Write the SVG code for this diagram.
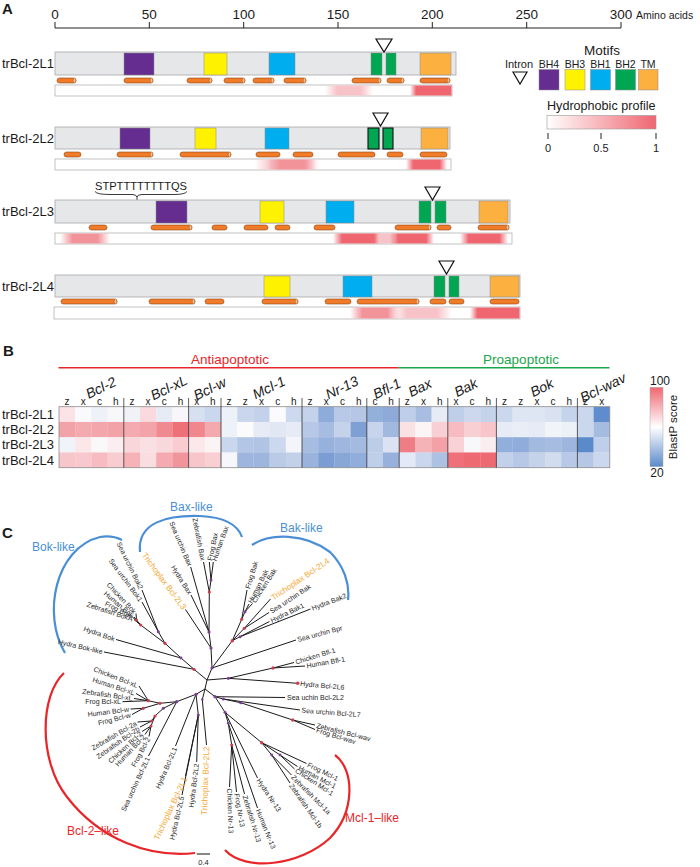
<svg xmlns="http://www.w3.org/2000/svg" width="700" height="867" viewBox="0 0 700 867">
<defs>
<style>
text{font-family:"Liberation Sans",Arial,sans-serif;fill:#1a1a1a}
.bar{fill:#e6e7e8;stroke:#a7a9ac;stroke-width:0.8}
.bh4{fill:#662d91;stroke:#8a8a8a;stroke-width:0.5}
.bh3{fill:#fff200;stroke:#8a8a8a;stroke-width:0.5}
.bh1{fill:#00aeef;stroke:#8a8a8a;stroke-width:0.5}
.bh2{fill:#00a651;stroke:#8a8a8a;stroke-width:0.5}
.bh2k{fill:#00a651;stroke:#111;stroke-width:1.1}
.tm{fill:#fbb040;stroke:#8a8a8a;stroke-width:0.5}
.hx{fill:#f07c2a;stroke:#8b4513;stroke-width:0.6}
.hxe{fill:#f9c08e;stroke:#8b4513;stroke-width:0.4}
.prof{fill:#fff;stroke:#b3b3b3;stroke-width:0.8}
.intron{fill:#fff;stroke:#111;stroke-width:1.2}
.lbl{font-size:13px}
.tick{font-size:13.5px}
.br{stroke:#1a1a1a;stroke-width:1;fill:none}
.lf{font-size:7px;fill:#262626;dominant-baseline:central}
.tri{font-size:8.3px;fill:#f7a833;dominant-baseline:central}
.dr{fill:#c9404e}
.dp{fill:#7b3f96}
.grp{font-size:14px;font-style:italic;text-anchor:middle}
.col{font-size:10px;text-anchor:middle}
.blue{fill:#4a8fd6;font-size:12px}
.red{fill:#e8262a;font-size:12px}
.arcb{fill:none;stroke:#4a8fd6;stroke-width:2.2}
.arcr{fill:none;stroke:#e8262a;stroke-width:2.2}
</style>
<linearGradient id="pS" x1="0" x2="1" y1="0" y2="0"><stop offset="0" stop-color="#ef6670" stop-opacity="0"/><stop offset="0.18" stop-color="#ef6670"/><stop offset="0.82" stop-color="#ef6670"/><stop offset="1" stop-color="#ef6670" stop-opacity="0"/></linearGradient>
<linearGradient id="pSr" x1="0" x2="1" y1="0" y2="0"><stop offset="0" stop-color="#ef6670" stop-opacity="0"/><stop offset="0.15" stop-color="#ef6670"/><stop offset="1" stop-color="#ef6670"/></linearGradient>
<linearGradient id="pM" x1="0" x2="1" y1="0" y2="0"><stop offset="0" stop-color="#f2939a" stop-opacity="0"/><stop offset="0.25" stop-color="#f2939a"/><stop offset="0.75" stop-color="#f2939a"/><stop offset="1" stop-color="#f2939a" stop-opacity="0"/></linearGradient>
<linearGradient id="pL" x1="0" x2="1" y1="0" y2="0"><stop offset="0" stop-color="#f7c3c8" stop-opacity="0"/><stop offset="0.25" stop-color="#f7c3c8"/><stop offset="0.75" stop-color="#f7c3c8"/><stop offset="1" stop-color="#f7c3c8" stop-opacity="0"/></linearGradient>
<linearGradient id="hyd" x1="0" x2="1" y1="0" y2="0"><stop offset="0" stop-color="#ffffff"/><stop offset="1" stop-color="#ef6670"/></linearGradient>
<linearGradient id="blast" x1="0" x2="0" y1="0" y2="1"><stop offset="0" stop-color="#ef6670"/><stop offset="0.5" stop-color="#ffffff"/><stop offset="1" stop-color="#5a8acb"/></linearGradient>
</defs>
<rect width="700" height="867" fill="#fff"/>

<!-- Panel A -->
<g id="panelA-axis">
<text x="2" y="14" style="font-size:15px;font-weight:bold">A</text>
<line x1="55" y1="28" x2="621" y2="28" stroke="#222" stroke-width="1"/>
<path d="M55,22V28M149.3,22V28M243.7,22V28M338,22V28M432.3,22V28M526.7,22V28M621,22V28" stroke="#222" stroke-width="1"/>
<g class="tick" text-anchor="middle">
<text x="55" y="19" class="tick">0</text><text x="149.3" y="19" class="tick">50</text><text x="243.7" y="19" class="tick">100</text><text x="338" y="19" class="tick">150</text><text x="432.3" y="19" class="tick">200</text><text x="526.7" y="19" class="tick">250</text><text x="621" y="19" class="tick">300</text>
</g>
<text x="636" y="19" style="font-size:10.5px">Amino acids</text>
</g>

<g id="row-L1">
<text x="2" y="68" class="lbl">trBcl-2L1</text>
<rect class="bar" x="55" y="52" width="401" height="23"/>
<rect class="bh4" x="124" y="53" width="30" height="22"/>
<rect class="bh3" x="204" y="53" width="23" height="22"/>
<rect class="bh1" x="269" y="53" width="26" height="22"/>
<rect class="bh2" x="371" y="53" width="11" height="22"/>
<rect class="bh2" x="386" y="53" width="10" height="22"/>
<rect class="tm" x="420" y="53" width="31" height="22"/>
<path class="intron" d="M376,39H392L384,52Z"/>
<g>
<rect class="hx" x="57" y="78" width="19" height="5" rx="2.5"/><rect class="hx" x="124" y="78" width="29" height="5" rx="2.5"/><rect class="hx" x="187" y="78" width="25" height="5" rx="2.5"/><rect class="hx" x="224" y="78" width="21" height="5" rx="2.5"/><rect class="hx" x="253" y="78" width="21" height="5" rx="2.5"/><rect class="hx" x="284" y="78" width="22" height="5" rx="2.5"/><rect class="hx" x="352" y="78" width="29" height="5" rx="2.5"/><rect class="hx" x="387" y="78" width="17" height="5" rx="2.5"/><rect class="hx" x="420" y="78" width="30" height="5" rx="2.5"/>
<ellipse class="hxe" cx="74.5" cy="80.5" rx="1.3" ry="2.4"/><ellipse class="hxe" cx="151.5" cy="80.5" rx="1.3" ry="2.4"/><ellipse class="hxe" cx="210.5" cy="80.5" rx="1.3" ry="2.4"/><ellipse class="hxe" cx="243.5" cy="80.5" rx="1.3" ry="2.4"/><ellipse class="hxe" cx="272.5" cy="80.5" rx="1.3" ry="2.4"/><ellipse class="hxe" cx="304.5" cy="80.5" rx="1.3" ry="2.4"/><ellipse class="hxe" cx="379.5" cy="80.5" rx="1.3" ry="2.4"/><ellipse class="hxe" cx="402.5" cy="80.5" rx="1.3" ry="2.4"/><ellipse class="hxe" cx="448.5" cy="80.5" rx="1.3" ry="2.4"/>
</g>
<rect class="prof" x="55" y="85" width="397" height="11"/>
<rect x="325" y="85.5" width="48" height="10" fill="url(#pL)"/>
<rect x="410" y="85.5" width="41.5" height="10" fill="url(#pSr)"/>
</g>

<g id="row-L2">
<text x="2" y="142.5" class="lbl">trBcl-2L2</text>
<rect class="bar" x="55" y="127" width="395" height="22"/>
<rect class="bh4" x="120" y="128" width="30" height="21"/>
<rect class="bh3" x="195" y="128" width="21" height="21"/>
<rect class="bh1" x="265" y="128" width="24" height="21"/>
<rect class="bh2k" x="368" y="128" width="11" height="21"/>
<rect class="bh2k" x="383" y="128" width="10" height="21"/>
<rect class="tm" x="421" y="128" width="27" height="21"/>
<path class="intron" d="M373,113H388L380.5,126Z"/>
<g>
<rect class="hx" x="64" y="152" width="17" height="5" rx="2.5"/><rect class="hx" x="117" y="152" width="36" height="5" rx="2.5"/><rect class="hx" x="180" y="152" width="51" height="5" rx="2.5"/><rect class="hx" x="256" y="152" width="24" height="5" rx="2.5"/><rect class="hx" x="293" y="152" width="20" height="5" rx="2.5"/><rect class="hx" x="338" y="152" width="37" height="5" rx="2.5"/><rect class="hx" x="387" y="152" width="16" height="5" rx="2.5"/><rect class="hx" x="420" y="152" width="27" height="5" rx="2.5"/>
<ellipse class="hxe" cx="151.5" cy="154.5" rx="1.3" ry="2.4"/><ellipse class="hxe" cx="229.5" cy="154.5" rx="1.3" ry="2.4"/>
</g>
<rect class="prof" x="55" y="159" width="396" height="11"/>
<rect x="255" y="159.5" width="65" height="10" fill="url(#pL)"/>
<rect x="268" y="159.5" width="48" height="10" fill="url(#pM)"/>
<rect x="406" y="159.5" width="41" height="10" fill="url(#pS)"/>
</g>

<g id="row-L3">
<text x="95" y="190" style="font-size:11px" textLength="92" lengthAdjust="spacingAndGlyphs">STPTTTTTTTTQS</text>
<path d="M95,191.5Q97,194.5 110,194.5L132,194.5Q136.5,194.5 137,197Q137.5,194.5 142,194.5L174,194.5Q185,194.5 187,191.5M137,197V200" fill="none" stroke="#222" stroke-width="0.9"/>
<text x="2" y="216" class="lbl">trBcl-2L3</text>
<rect class="bar" x="55" y="200" width="455" height="23"/>
<rect class="bh4" x="156" y="201" width="31" height="22"/>
<rect class="bh3" x="260" y="201" width="24" height="22"/>
<rect class="bh1" x="326" y="201" width="28" height="22"/>
<rect class="bh2" x="419" y="201" width="12" height="22"/>
<rect class="bh2" x="435" y="201" width="11" height="22"/>
<rect class="tm" x="479" y="201" width="29" height="22"/>
<path class="intron" d="M425,187H440L432.5,200Z"/>
<g>
<rect class="hx" x="89" y="225" width="18" height="5" rx="2.5"/><rect class="hx" x="151" y="225" width="41" height="5" rx="2.5"/><rect class="hx" x="212" y="225" width="15" height="5" rx="2.5"/><rect class="hx" x="244" y="225" width="24" height="5" rx="2.5"/><rect class="hx" x="275" y="225" width="15" height="5" rx="2.5"/><rect class="hx" x="314" y="225" width="21" height="5" rx="2.5"/><rect class="hx" x="395" y="225" width="36" height="5" rx="2.5"/><rect class="hx" x="437" y="225" width="14" height="5" rx="2.5"/><rect class="hx" x="478" y="225" width="31" height="5" rx="2.5"/>
<ellipse class="hxe" cx="190.5" cy="227.5" rx="1.3" ry="2.4"/><ellipse class="hxe" cx="429.5" cy="227.5" rx="1.3" ry="2.4"/><ellipse class="hxe" cx="507.5" cy="227.5" rx="1.3" ry="2.4"/>
</g>
<rect class="prof" x="55" y="233" width="457" height="11"/>
<rect x="60" y="233.5" width="50" height="10" fill="url(#pM)"/>
<rect x="333" y="233.5" width="50" height="10" fill="url(#pS)"/>
<rect x="376" y="233.5" width="22" height="10" fill="url(#pL)"/>
<rect x="390" y="233.5" width="44" height="10" fill="url(#pS)"/>
<rect x="460" y="233.5" width="48" height="10" fill="url(#pS)"/>
</g>

<g id="row-L4">
<text x="2" y="290.5" class="lbl">trBcl-2L4</text>
<rect class="bar" x="55" y="275" width="465" height="22"/>
<rect class="bh3" x="264" y="276" width="26" height="21"/>
<rect class="bh1" x="343" y="276" width="29" height="21"/>
<rect class="bh2" x="434" y="276" width="11" height="21"/>
<rect class="bh2" x="449" y="276" width="10" height="21"/>
<rect class="tm" x="490" y="276" width="29" height="21"/>
<path class="intron" d="M439,261H454L446.5,274Z"/>
<g>
<rect class="hx" x="61" y="299" width="56" height="5" rx="2.5"/><rect class="hx" x="149" y="299" width="46" height="5" rx="2.5"/><rect class="hx" x="205" y="299" width="19" height="5" rx="2.5"/><rect class="hx" x="262" y="299" width="36" height="5" rx="2.5"/><rect class="hx" x="325" y="299" width="26" height="5" rx="2.5"/><rect class="hx" x="357" y="299" width="62" height="5" rx="2.5"/><rect class="hx" x="430" y="299" width="16" height="5" rx="2.5"/><rect class="hx" x="449" y="299" width="15" height="5" rx="2.5"/><rect class="hx" x="490" y="299" width="29" height="5" rx="2.5"/>
<ellipse class="hxe" cx="115.5" cy="301.5" rx="1.3" ry="2.4"/><ellipse class="hxe" cx="193.5" cy="301.5" rx="1.3" ry="2.4"/><ellipse class="hxe" cx="296.5" cy="301.5" rx="1.3" ry="2.4"/><ellipse class="hxe" cx="417.5" cy="301.5" rx="1.3" ry="2.4"/>
</g>
<rect class="prof" x="54" y="307" width="466" height="12"/>
<rect x="350" y="307.5" width="50" height="11" fill="url(#pM)"/>
<rect x="392" y="307.5" width="60" height="11" fill="url(#pL)"/>
<rect x="470" y="307.5" width="49.5" height="11" fill="url(#pSr)"/>
</g>

<g id="legendA">
<text x="602" y="55" text-anchor="middle" style="font-size:13.5px">Motifs</text>
<text x="519" y="68" text-anchor="middle" style="font-size:11px">Intron</text>
<g text-anchor="middle" style="font-size:10.5px">
<text x="549" y="68">BH4</text><text x="575" y="68">BH3</text><text x="600.5" y="68">BH1</text><text x="625.5" y="68">BH2</text><text x="648" y="68">TM</text>
</g>
<path class="intron" d="M513,72H527L520,84Z"/>
<rect class="bh4" x="539" y="69.5" width="20" height="20.5"/>
<rect class="bh3" x="565" y="69.5" width="20" height="20.5"/>
<rect class="bh1" x="590.5" y="69.5" width="20" height="20.5"/>
<rect class="bh2" x="615.5" y="69.5" width="20" height="20.5"/>
<rect class="tm" x="638.5" y="69.5" width="19.5" height="20.5"/>
<text x="547" y="110" style="font-size:12.6px">Hydrophobic profile</text>
<rect x="547" y="115.5" width="109" height="13.5" fill="url(#hyd)" stroke="#999" stroke-width="0.6"/>
<path d="M548,133V139M601,133V139M656,133V139" stroke="#222" stroke-width="1"/>
<g text-anchor="middle" style="font-size:11px"><text x="548" y="152">0</text><text x="601" y="152">0.5</text><text x="656" y="152">1</text></g>
</g>

<!-- Panel B -->
<g id="panelB-header">
<text x="3" y="356" style="font-size:15px;font-weight:bold">B</text>
<line x1="58.5" y1="367.7" x2="398.6" y2="367.7" stroke="#e8262a" stroke-width="1.5"/>
<line x1="398.6" y1="367.7" x2="609.5" y2="367.7" stroke="#1aa54b" stroke-width="1.5"/>
<text x="230" y="364" text-anchor="middle" style="font-size:13.5px;fill:#e8262a">Antiapoptotic</text>
<text x="521" y="364" text-anchor="middle" style="font-size:13.5px;fill:#1aa54b">Proapoptotic</text>
<text class="grp" transform="translate(103 392) rotate(-26)">Bcl-2</text>
<text class="grp" transform="translate(171 392) rotate(-26)">Bcl-xL</text>
<text class="grp" transform="translate(212 393) rotate(-26)">Bcl-w</text>
<text class="grp" transform="translate(271 392) rotate(-26)">Mcl-1</text>
<text class="grp" transform="translate(344 392) rotate(-26)">Nr-13</text>
<text class="grp" transform="translate(389 393) rotate(-26)">Bfl-1</text>
<text class="grp" transform="translate(422 392) rotate(-26)">Bax</text>
<text class="grp" transform="translate(468 392) rotate(-26)">Bak</text>
<text class="grp" transform="translate(544 392) rotate(-26)">Bok</text>
<text class="grp" transform="translate(605 392) rotate(-26)">Bcl-wav</text>
<g class="col">
<text x="67.1" y="404.5" class="col">z</text><text x="83.3" y="404.5" class="col">x</text><text x="99.5" y="404.5" class="col">c</text><text x="115.7" y="404.5" class="col">h</text>
<text x="131.9" y="404.5" class="col">z</text><text x="148.1" y="404.5" class="col">x</text><text x="164.3" y="404.5" class="col">c</text><text x="180.5" y="404.5" class="col">h</text>
<text x="196.7" y="404.5" class="col">x</text><text x="212.9" y="404.5" class="col">h</text>
<text x="229.1" y="404.5" class="col">z</text><text x="245.3" y="404.5" class="col">z</text><text x="261.5" y="404.5" class="col">x</text><text x="277.7" y="404.5" class="col">c</text><text x="293.9" y="404.5" class="col">h</text>
<text x="310.1" y="404.5" class="col">z</text><text x="326.3" y="404.5" class="col">x</text><text x="342.5" y="404.5" class="col">c</text><text x="358.7" y="404.5" class="col">h</text>
<text x="374.9" y="404.5" class="col">c</text><text x="391.1" y="404.5" class="col">h</text>
<text x="407.3" y="404.5" class="col">z</text><text x="423.5" y="404.5" class="col">x</text><text x="439.7" y="404.5" class="col">h</text>
<text x="455.9" y="404.5" class="col">x</text><text x="472.1" y="404.5" class="col">c</text><text x="488.3" y="404.5" class="col">h</text>
<text x="504.5" y="404.5" class="col">z</text><text x="520.7" y="404.5" class="col">z</text><text x="536.9" y="404.5" class="col">x</text><text x="553.1" y="404.5" class="col">c</text><text x="569.3" y="404.5" class="col">h</text>
<text x="585.5" y="404.5" class="col">z</text><text x="601.7" y="404.5" class="col">x</text>
</g>
<g class="lbl"><text x="2" y="418.8" class="lbl">trBcl-2L1</text><text x="2" y="434.1" class="lbl">trBcl-2L2</text><text x="2" y="449.3" class="lbl">trBcl-2L3</text><text x="2" y="464.6" class="lbl">trBcl-2L4</text></g>
</g>

<g id="heatmap">
<g id="hm-r1">
<rect x="59.0" y="406.7" width="16.4" height="15.5" fill="#fbe3e6"/><rect x="75.2" y="406.7" width="16.4" height="15.5" fill="#fafafc"/><rect x="91.4" y="406.7" width="16.4" height="15.5" fill="#eef1f8"/><rect x="107.6" y="406.7" width="16.4" height="15.5" fill="#f8f8fb"/><rect x="123.8" y="406.7" width="16.4" height="15.5" fill="#f0f2f8"/><rect x="140.0" y="406.7" width="16.4" height="15.5" fill="#fadadf"/><rect x="156.2" y="406.7" width="16.4" height="15.5" fill="#e6ebf5"/><rect x="172.4" y="406.7" width="16.4" height="15.5" fill="#f8f6f9"/><rect x="188.6" y="406.7" width="16.4" height="15.5" fill="#d7e0f0"/><rect x="204.8" y="406.7" width="16.4" height="15.5" fill="#cbd7ed"/><rect x="221.0" y="406.7" width="16.4" height="15.5" fill="#edf1f8"/><rect x="237.2" y="406.7" width="16.4" height="15.5" fill="#c9d6ec"/><rect x="253.4" y="406.7" width="16.4" height="15.5" fill="#c3d1ea"/><rect x="269.6" y="406.7" width="16.4" height="15.5" fill="#fbfbfd"/><rect x="285.8" y="406.7" width="16.4" height="15.5" fill="#cdd9ee"/><rect x="302.0" y="406.7" width="16.4" height="15.5" fill="#c4d2ea"/><rect x="318.2" y="406.7" width="16.4" height="15.5" fill="#8eacd9"/><rect x="334.4" y="406.7" width="16.4" height="15.5" fill="#b7c9e6"/><rect x="350.6" y="406.7" width="16.4" height="15.5" fill="#b5c7e5"/><rect x="366.8" y="406.7" width="16.4" height="15.5" fill="#93b0db"/><rect x="383.0" y="406.7" width="16.4" height="15.5" fill="#8eaad8"/><rect x="399.2" y="406.7" width="16.4" height="15.5" fill="#c0cfe9"/><rect x="415.4" y="406.7" width="16.4" height="15.5" fill="#a8bde1"/><rect x="431.6" y="406.7" width="16.4" height="15.5" fill="#e6ebf5"/><rect x="447.8" y="406.7" width="16.4" height="15.5" fill="#bfcfe9"/><rect x="464.0" y="406.7" width="16.4" height="15.5" fill="#cdd8ee"/><rect x="480.2" y="406.7" width="16.4" height="15.5" fill="#c5d3ea"/><rect x="496.4" y="406.7" width="16.4" height="15.5" fill="#cbd7ed"/><rect x="512.6" y="406.7" width="16.4" height="15.5" fill="#dfe6f3"/><rect x="528.8" y="406.7" width="16.4" height="15.5" fill="#dfe6f3"/><rect x="545.0" y="406.7" width="16.4" height="15.5" fill="#dae2f1"/><rect x="561.2" y="406.7" width="16.4" height="15.5" fill="#c6d4eb"/><rect x="577.4" y="406.7" width="16.4" height="15.5" fill="#cbd7ec"/><rect x="593.6" y="406.7" width="16.2" height="15.5" fill="#5f8ccc"/>
</g>
<g id="hm-r2">
<rect x="59.0" y="421.95" width="16.4" height="15.5" fill="#f2a3a8"/><rect x="75.2" y="421.95" width="16.4" height="15.5" fill="#f4abb0"/><rect x="91.4" y="421.95" width="16.4" height="15.5" fill="#f3a7ad"/><rect x="107.6" y="421.95" width="16.4" height="15.5" fill="#f2a3a8"/><rect x="123.8" y="421.95" width="16.4" height="15.5" fill="#f4aab0"/><rect x="140.0" y="421.95" width="16.4" height="15.5" fill="#f3a4aa"/><rect x="156.2" y="421.95" width="16.4" height="15.5" fill="#f08a91"/><rect x="172.4" y="421.95" width="16.4" height="15.5" fill="#ee7079"/><rect x="188.6" y="421.95" width="16.4" height="15.5" fill="#f0868e"/><rect x="204.8" y="421.95" width="16.4" height="15.5" fill="#f4a9af"/><rect x="221.0" y="421.95" width="16.4" height="15.5" fill="#edf1f8"/><rect x="237.2" y="421.95" width="16.4" height="15.5" fill="#fbfbfd"/><rect x="253.4" y="421.95" width="16.4" height="15.5" fill="#e6ebf5"/><rect x="269.6" y="421.95" width="16.4" height="15.5" fill="#e1e7f3"/><rect x="285.8" y="421.95" width="16.4" height="15.5" fill="#e6ebf5"/><rect x="302.0" y="421.95" width="16.4" height="15.5" fill="#b6c8e5"/><rect x="318.2" y="421.95" width="16.4" height="15.5" fill="#a6bce0"/><rect x="334.4" y="421.95" width="16.4" height="15.5" fill="#c5d3ea"/><rect x="350.6" y="421.95" width="16.4" height="15.5" fill="#7fa0d4"/><rect x="366.8" y="421.95" width="16.4" height="15.5" fill="#c7d4eb"/><rect x="383.0" y="421.95" width="16.4" height="15.5" fill="#a2b9df"/><rect x="399.2" y="421.95" width="16.4" height="15.5" fill="#fae1e4"/><rect x="415.4" y="421.95" width="16.4" height="15.5" fill="#fbf5f6"/><rect x="431.6" y="421.95" width="16.4" height="15.5" fill="#f8d0d4"/><rect x="447.8" y="421.95" width="16.4" height="15.5" fill="#f6bcc1"/><rect x="464.0" y="421.95" width="16.4" height="15.5" fill="#f8d0d4"/><rect x="480.2" y="421.95" width="16.4" height="15.5" fill="#f7c5ca"/><rect x="496.4" y="421.95" width="16.4" height="15.5" fill="#e6ebf5"/><rect x="512.6" y="421.95" width="16.4" height="15.5" fill="#e9eef6"/><rect x="528.8" y="421.95" width="16.4" height="15.5" fill="#e6ebf5"/><rect x="545.0" y="421.95" width="16.4" height="15.5" fill="#f1f4f9"/><rect x="561.2" y="421.95" width="16.4" height="15.5" fill="#ecf0f7"/><rect x="577.4" y="421.95" width="16.4" height="15.5" fill="#cbd7ec"/><rect x="593.6" y="421.95" width="16.2" height="15.5" fill="#a5bbdf"/>
</g>
<g id="hm-r3">
<rect x="59.0" y="437.2" width="16.4" height="15.5" fill="#f0f3f9"/><rect x="75.2" y="437.2" width="16.4" height="15.5" fill="#fbe6e8"/><rect x="91.4" y="437.2" width="16.4" height="15.5" fill="#fbf8f9"/><rect x="107.6" y="437.2" width="16.4" height="15.5" fill="#faeef0"/><rect x="123.8" y="437.2" width="16.4" height="15.5" fill="#f9d6da"/><rect x="140.0" y="437.2" width="16.4" height="15.5" fill="#fae0e3"/><rect x="156.2" y="437.2" width="16.4" height="15.5" fill="#f9d8dc"/><rect x="172.4" y="437.2" width="16.4" height="15.5" fill="#f8ccd1"/><rect x="188.6" y="437.2" width="16.4" height="15.5" fill="#fbe8ea"/><rect x="204.8" y="437.2" width="16.4" height="15.5" fill="#fbf3f4"/><rect x="221.0" y="437.2" width="16.4" height="15.5" fill="#c9d6ec"/><rect x="237.2" y="437.2" width="16.4" height="15.5" fill="#b3c6e5"/><rect x="253.4" y="437.2" width="16.4" height="15.5" fill="#b1c4e4"/><rect x="269.6" y="437.2" width="16.4" height="15.5" fill="#ccd8ed"/><rect x="285.8" y="437.2" width="16.4" height="15.5" fill="#f3f5fa"/><rect x="302.0" y="437.2" width="16.4" height="15.5" fill="#a6bce0"/><rect x="318.2" y="437.2" width="16.4" height="15.5" fill="#96b1dc"/><rect x="334.4" y="437.2" width="16.4" height="15.5" fill="#9fb7de"/><rect x="350.6" y="437.2" width="16.4" height="15.5" fill="#a4bbdf"/><rect x="366.8" y="437.2" width="16.4" height="15.5" fill="#bccde8"/><rect x="383.0" y="437.2" width="16.4" height="15.5" fill="#dbe3f2"/><rect x="399.2" y="437.2" width="16.4" height="15.5" fill="#ef7d85"/><rect x="415.4" y="437.2" width="16.4" height="15.5" fill="#f5b3b8"/><rect x="431.6" y="437.2" width="16.4" height="15.5" fill="#f3a0a6"/><rect x="447.8" y="437.2" width="16.4" height="15.5" fill="#f8d2d6"/><rect x="464.0" y="437.2" width="16.4" height="15.5" fill="#f8f8fb"/><rect x="480.2" y="437.2" width="16.4" height="15.5" fill="#fbeef0"/><rect x="496.4" y="437.2" width="16.4" height="15.5" fill="#92afdb"/><rect x="512.6" y="437.2" width="16.4" height="15.5" fill="#8facda"/><rect x="528.8" y="437.2" width="16.4" height="15.5" fill="#a3badf"/><rect x="545.0" y="437.2" width="16.4" height="15.5" fill="#a6bce0"/><rect x="561.2" y="437.2" width="16.4" height="15.5" fill="#9eb6de"/><rect x="577.4" y="437.2" width="16.4" height="15.5" fill="#5b8acb"/><rect x="593.6" y="437.2" width="16.2" height="15.5" fill="#c0cfe9"/>
</g>
<g id="hm-r4">
<rect x="59.0" y="452.45" width="16.4" height="15.25" fill="#f7c6cb"/><rect x="75.2" y="452.45" width="16.4" height="15.25" fill="#f7c8cd"/><rect x="91.4" y="452.45" width="16.4" height="15.25" fill="#f6bcc1"/><rect x="107.6" y="452.45" width="16.4" height="15.25" fill="#f8cdd1"/><rect x="123.8" y="452.45" width="16.4" height="15.25" fill="#f5b3b8"/><rect x="140.0" y="452.45" width="16.4" height="15.25" fill="#fadde0"/><rect x="156.2" y="452.45" width="16.4" height="15.25" fill="#f4aab0"/><rect x="172.4" y="452.45" width="16.4" height="15.25" fill="#f1959c"/><rect x="188.6" y="452.45" width="16.4" height="15.25" fill="#f7c6cb"/><rect x="204.8" y="452.45" width="16.4" height="15.25" fill="#f8cfd3"/><rect x="221.0" y="452.45" width="16.4" height="15.25" fill="#f5f7fb"/><rect x="237.2" y="452.45" width="16.4" height="15.25" fill="#9eb6de"/><rect x="253.4" y="452.45" width="16.4" height="15.25" fill="#9eb6de"/><rect x="269.6" y="452.45" width="16.4" height="15.25" fill="#b9cbe7"/><rect x="285.8" y="452.45" width="16.4" height="15.25" fill="#c2d0ea"/><rect x="302.0" y="452.45" width="16.4" height="15.25" fill="#9ab3dc"/><rect x="318.2" y="452.45" width="16.4" height="15.25" fill="#7b9dd3"/><rect x="334.4" y="452.45" width="16.4" height="15.25" fill="#88a7d7"/><rect x="350.6" y="452.45" width="16.4" height="15.25" fill="#91addb"/><rect x="366.8" y="452.45" width="16.4" height="15.25" fill="#bfcfe9"/><rect x="383.0" y="452.45" width="16.4" height="15.25" fill="#97b1dc"/><rect x="399.2" y="452.45" width="16.4" height="15.25" fill="#e4eaf5"/><rect x="415.4" y="452.45" width="16.4" height="15.25" fill="#c9d6ec"/><rect x="431.6" y="452.45" width="16.4" height="15.25" fill="#adc1e3"/><rect x="447.8" y="452.45" width="16.4" height="15.25" fill="#ef7079"/><rect x="464.0" y="452.45" width="16.4" height="15.25" fill="#ee6a73"/><rect x="480.2" y="452.45" width="16.4" height="15.25" fill="#ee6a73"/><rect x="496.4" y="452.45" width="16.4" height="15.25" fill="#c2d0ea"/><rect x="512.6" y="452.45" width="16.4" height="15.25" fill="#b6c8e5"/><rect x="528.8" y="452.45" width="16.4" height="15.25" fill="#c5d3ea"/><rect x="545.0" y="452.45" width="16.4" height="15.25" fill="#d1dcef"/><rect x="561.2" y="452.45" width="16.4" height="15.25" fill="#b7c9e6"/><rect x="577.4" y="452.45" width="16.4" height="15.25" fill="#b5c7e5"/><rect x="593.6" y="452.45" width="16.2" height="15.25" fill="#cbd7ec"/>
</g>
<rect x="59" y="406.7" width="550.8" height="61" fill="none" stroke="#8c8c8c" stroke-width="0.8"/>
<path d="M123.8,398V467.7M188.6,398V467.7M221,398V467.7M302,398V467.7M366.8,398V467.7M399.2,398V467.7M447.8,398V467.7M496.4,398V467.7M577.4,398V467.7" stroke="#333" stroke-width="0.8"/>
</g>

<g id="colorbar">
<rect x="650" y="387.3" width="13" height="79.4" fill="url(#blast)" stroke="#aaa" stroke-width="0.5"/>
<text x="660" y="385" text-anchor="middle" style="font-size:12px">100</text>
<text x="657" y="477" text-anchor="middle" style="font-size:12px">20</text>
<text transform="translate(673 427) rotate(-90)" text-anchor="middle" style="font-size:11.5px;dominant-baseline:central">BlastP score</text>
</g>

<!-- Panel C -->
<text x="2" y="538" style="font-size:15px;font-weight:bold">C</text>

<g id="clade-arcs">
<path class="arcb" d="M65,653C42,615 55,548 100,537Q112,535 122,540"/>
<path class="arcb" d="M140,552C137,522 168,515 200,516C222,517 237,523 242,537"/>
<path class="arcb" d="M252,545C270,533 305,533 330,552C344,566 350,584 348,600"/>
<path class="arcr" d="M64,673C40,695 38,760 67,797C100,840 150,858 195,853"/>
<path class="arcr" d="M225,850C245,872 300,866 330,838C355,812 355,770 335,755"/>
<text x="32" y="551" class="blue">Bok-like</text>
<text x="170" y="510.5" class="blue">Bax-like</text>
<text x="280" y="532" class="blue">Bak-like</text>
<text x="67" y="835" class="red">Bcl-2–like</text>
<text x="345" y="822" class="red">Mcl-1–like</text>
</g>

<g id="connectors">
<path class="br" d="M207,680L205,689M207,680L212,668
M212,668L211,648L209,632L209.3,592L211,580M209.3,592L203.5,562M211,580L209.3,562M211,580L213.3,562
M209,632L190.7,567M209,632L191,595M211,648L185.5,609.5
M212,668L296,640M212,668L232.3,640.7L241.7,619.3L245,611.7M241.7,619.3L247,590M245,611.7L249,604M245,611.7L252.5,603.5
M232.3,640.7L244.3,628.3L269,612.5M244.3,628.3L270.5,599M232.3,640.7L240,636.7L269.5,621.5M240,636.7L310.5,609
M207,680L194,669.3L181,658L165,643.3L158.3,631.7L142,590M158.3,631.7L142,602M194,669.3L104,652M181,658L116,639.5
M165,643.3L140.7,625L136.5,620L136,613.5M136.5,620L134,617M140.7,625L132,616.5M140.7,625L134,619.5
M207,680L228.3,678.3L297.7,683.3M228.3,678.3L273,668L294,662.5M273,668L305,666
M205,689L215,696.7L285,697.5M215,696.7L223.3,699L300,710M223.3,699L240.7,702.7L292.7,720L315,725M292.7,720L315,729.5
M215,696.7L225,712.3L261.7,742.7L306.5,763.5M261.7,742.7L280,755L297.5,766.5M280,755L294.5,769M261.7,742.7L271.7,755L291.5,775M271.7,755L290,783
M225,712.3L228.3,723.3L231.7,745L229.5,787M231.7,745L236.5,792M231.7,745L244.5,794M228.3,723.3L257.5,808M225,712.3L257.5,778
M205,689L196,694.3L176.7,701.7L160,703.3L148.3,700.7L139,686M148.3,700.7L136,693.5M148.3,700.7L134,698.5M148.3,700.7L122.5,701.7
M160,703.3L143.3,708.3L130.5,709M143.3,708.3L132,714.5
M176.7,701.7L163.3,708.3L155,716L151.7,721L137.5,722M151.7,721L140,727M155,716L151,726L142,731.5M151,726L145,734.5M151,726L149,736.5
M176.7,701.7L148.5,756M196,694.3L175.5,746M196,694.3L198.3,715L196.7,762M198.3,715L182,795M198.3,715L185.5,776
M205,689L202.3,699.5L206.5,745"/>
<path d="M196.7,854H210" stroke="#111" stroke-width="1"/>
<text x="203.5" y="865" text-anchor="middle" style="font-size:7.5px">0.4</text>
</g>

<g id="tree-dots">
<circle class="dp" cx="212" cy="668" r="1.6"/><circle class="dp" cx="211" cy="648" r="1.6"/><circle class="dp" cx="209" cy="632" r="1.6"/><circle class="dr" cx="209.3" cy="592" r="1.6"/><circle class="dp" cx="211" cy="580" r="1.5"/>
<circle class="dr" cx="232.3" cy="640.7" r="1.7"/><circle class="dr" cx="241.7" cy="619.3" r="1.6"/><circle class="dp" cx="245" cy="611.7" r="1.5"/><circle class="dr" cx="244.3" cy="628.3" r="1.6"/><circle class="dp" cx="240" cy="636.7" r="1.5"/>
<circle class="dr" cx="194" cy="669.3" r="1.6"/><circle class="dp" cx="181" cy="658" r="1.4"/><circle class="dr" cx="165" cy="643.3" r="1.6"/><circle class="dp" cx="158.3" cy="631.7" r="1.5"/><circle class="dr" cx="140.7" cy="625" r="1.6"/><circle class="dr" cx="136.5" cy="620" r="1.6"/>
<circle class="dp" cx="228.3" cy="678.3" r="1.6"/><circle class="dr" cx="273" cy="668" r="1.7"/><circle class="dr" cx="297.7" cy="683.3" r="1.8"/>
<circle class="dp" cx="215" cy="696.7" r="1.6"/><circle class="dp" cx="223.3" cy="699" r="1.5"/><circle class="dp" cx="240.7" cy="702.7" r="1.5"/><circle class="dr" cx="292.7" cy="720" r="1.7"/>
<circle class="dp" cx="225" cy="712.3" r="1.5"/><circle class="dr" cx="261.7" cy="742.7" r="1.7"/><circle class="dp" cx="280" cy="755" r="1.4"/><circle class="dp" cx="271.7" cy="755" r="1.4"/><circle class="dp" cx="228.3" cy="723.3" r="1.4"/><circle class="dr" cx="231.7" cy="745" r="1.6"/>
<circle class="dp" cx="196" cy="694.3" r="1.6"/><circle class="dp" cx="198.3" cy="715" r="1.5"/><circle class="dp" cx="202.3" cy="699.5" r="1.2"/><circle class="dp" cx="176.7" cy="701.7" r="1.6"/><circle class="dr" cx="160" cy="703.3" r="1.6"/><circle class="dr" cx="148.3" cy="700.7" r="1.6"/><circle class="dr" cx="143.3" cy="708.3" r="1.6"/><circle class="dp" cx="163.3" cy="708.3" r="1.5"/><circle class="dr" cx="155" cy="716" r="1.6"/><circle class="dr" cx="151.7" cy="721" r="1.5"/><circle class="dr" cx="151" cy="726" r="1.5"/>
</g>

<g id="clade-bok">
<text class="lf" text-anchor="end" transform="translate(102.5 651.7) rotate(13)">Hydra Bok-like</text>
<text class="lf" text-anchor="end" transform="translate(114.6 639) rotate(19)">Hydra Bok</text>
<text class="lf" text-anchor="end" transform="translate(132.6 619) rotate(18)">Zebrafish BokA</text>
<text class="lf" text-anchor="end" transform="translate(130.7 615.8) rotate(27)">Frog Bok</text>
<text class="lf" text-anchor="end" transform="translate(132.9 616) rotate(40)">Human Bok</text>
<text class="lf" text-anchor="end" transform="translate(135 612.4) rotate(47)">Chicken Bok</text>
<text class="lf" text-anchor="end" transform="translate(141.1 600.8) rotate(53.5)">Sea urchin Bok1</text>
<text class="lf" text-anchor="end" transform="translate(141.3 588.7) rotate(64)">Sea urchin Bok2</text>
</g>
<g id="clade-bax">
<text class="tri" text-anchor="end" transform="translate(184.6 608.3) rotate(53.4)">Trichoplax Bcl-2L3</text>
<text class="lf" text-anchor="end" transform="translate(190.2 593.7) rotate(58)">Hydra Bax</text>
<text class="lf" text-anchor="end" transform="translate(190.1 565.6) rotate(67)">Sea urchin Bax</text>
<text class="lf" text-anchor="end" transform="translate(203.2 560.5) rotate(79)">Zebrafish Bax</text>
<text class="lf" transform="translate(209.6 560.5) rotate(-78)">Frog Bax</text>
<text class="lf" transform="translate(213.8 560.6) rotate(-70)">Human Bax</text>
</g>
<g id="clade-bak">
<text class="lf" transform="translate(247.4 588.6) rotate(-73)">Frog Bak</text>
<text class="lf" transform="translate(249.7 602.7) rotate(-63)">Human Bak</text>
<text class="lf" transform="translate(253.3 602.2) rotate(-57)">Chicken Bak</text>
<text class="tri" transform="translate(271.7 598.2) rotate(-34)">Trichoplax Bcl-2L4</text>
<text class="lf" transform="translate(270.3 611.7) rotate(-33)">Sea urchin Bak</text>
<text class="lf" transform="translate(270.8 620.8) rotate(-26)">Hydra Bak1</text>
<text class="lf" transform="translate(311.9 608.5) rotate(-21)">Hydra Bak2</text>
<text class="lf" transform="translate(297.4 639.6) rotate(-15)">Sea urchin Bpr</text>
</g>
<g id="clade-bfl">
<text class="lf" transform="translate(295.4 662.1) rotate(-17)">Chicken Bfl-1</text>
<text class="lf" transform="translate(306.5 665.7) rotate(-10)">Human Bfl-1</text>
<text class="lf" transform="translate(300.2 683.5) rotate(5)">Hydra Bcl-2L6</text>
<text class="lf" transform="translate(287 697.5)">Sea uchin Bcl-2L2</text>
<text class="lf" transform="translate(301.5 710.1) rotate(4.5)">Sea urchin Bcl-2L7</text>
<text class="lf" transform="translate(316.5 725.4) rotate(14)">Zebrafish Bcl-wav</text>
<text class="lf" transform="translate(316.4 729.9) rotate(17)">Frog Bcl-wav</text>
</g>
<g id="clade-mcl">
<text class="lf" transform="translate(307.8 764.2) rotate(26)">Frog Mcl-1</text>
<text class="lf" transform="translate(298.8 767.2) rotate(28)">Human Mcl-1</text>
<text class="lf" transform="translate(295.8 769.8) rotate(33)">Chicken Mcl-1</text>
<text class="lf" transform="translate(292.6 776.1) rotate(45)">Zebrafish Mcl-1a</text>
<text class="lf" transform="translate(290.9 784.2) rotate(55)">Zebrafish Mcl-1b</text>
<text class="lf" transform="translate(258.3 779.2) rotate(56)">Hydra Nr-13</text>
<text class="lf" transform="translate(258.1 809.4) rotate(68)">Human Nr-13</text>
<text class="lf" transform="translate(244.9 795.4) rotate(73)">Zebrafish Nr-13</text>
<text class="lf" transform="translate(236.8 793.5) rotate(80)">Frog Nr-13</text>
<text class="lf" transform="translate(229.6 788.5) rotate(88)">Chicken Nr-13</text>
</g>
<g id="clade-bcl2">
<text class="tri" text-anchor="end" transform="translate(206.4 746.5) rotate(-88)">Trichoplax Bcl-2L2</text>
<text class="lf" text-anchor="end" transform="translate(196.5 763.5) rotate(-83)">Hydra Bcl-2L2</text>
<text class="lf" text-anchor="end" transform="translate(181.7 796.5) rotate(-77)">Hydra Bcl-2L5</text>
<text class="tri" text-anchor="end" transform="translate(184.9 777.4) rotate(-65)">Trichoplax Bcl-2L1</text>
<text class="lf" text-anchor="end" transform="translate(174.9 747.4) rotate(-67)">Hydra Bcl-2L1</text>
<text class="lf" text-anchor="end" transform="translate(147.9 757.4) rotate(-65)">Sea urchin Bcl-2L1</text>
<text class="lf" text-anchor="end" transform="translate(148.3 737.8) rotate(-62)">Frog Bcl-2</text>
<text class="lf" text-anchor="end" transform="translate(144 735.6) rotate(-47)">Human Bcl-2</text>
<text class="lf" text-anchor="end" transform="translate(140.9 732.5) rotate(-43)">Chicken Bcl-2</text>
<text class="lf" text-anchor="end" transform="translate(138.8 727.9) rotate(-35)">Zebrafish Bcl-2b</text>
<text class="lf" text-anchor="end" transform="translate(136.2 722.8) rotate(-30)">Zebrafish Bcl-2a</text>
<text class="lf" text-anchor="end" transform="translate(130.5 714.9) rotate(-14)">Frog Bcl-w</text>
<text class="lf" text-anchor="end" transform="translate(129 709.2) rotate(-7)">Human Bcl-w</text>
<text class="lf" text-anchor="end" transform="translate(121 701.7)">Frog Bcl-xL</text>
<text class="lf" text-anchor="end" transform="translate(132.5 698.3) rotate(8)">Zebrafish Bcl-xL</text>
<text class="lf" text-anchor="end" transform="translate(134.6 693) rotate(18)">Human Bcl-xL</text>
<text class="lf" text-anchor="end" transform="translate(137.6 685.5) rotate(21)">Chicken Bcl-xL</text>
</g>
</svg>
